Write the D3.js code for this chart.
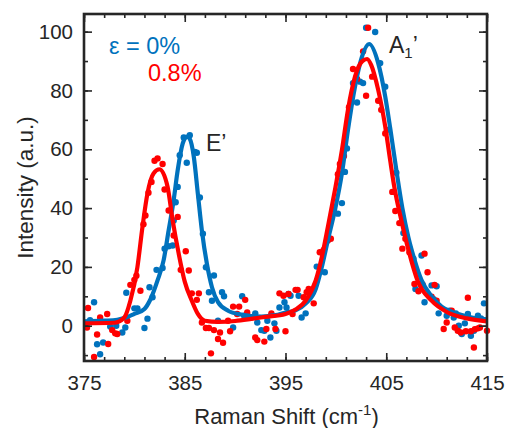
<!DOCTYPE html>
<html>
<head>
<meta charset="utf-8">
<script src="https://cdn.jsdelivr.net/npm/d3@7"></script>
<style>
  body { margin: 0; background: #fff; }
  text { font-family: "Liberation Sans", Arial, sans-serif; fill: #262626; }
</style>
</head>
<body>
<div id="chart"></div>
<script>
"use strict";

var w = 506,
  h = 428;

// measured data, epsilon = 0% (blue)
var blueX = [375.6, 376.0, 376.3, 376.6, 376.9, 377.6, 378.2, 378.8, 379.1, 379.2, 380.0, 380.3, 381.0, 381.3, 381.5, 381.8,
  382.2, 382.8, 383.0, 383.4, 383.8, 383.9, 384.1, 384.3, 384.5, 384.9, 385.2, 385.5, 386.0, 386.2, 386.5, 386.8, 387.1,
  387.4, 387.7, 387.9, 388.3, 388.7, 388.9, 389.8, 390.7, 390.9, 391.4, 392.0, 392.2, 392.6, 392.9, 393.2, 393.5, 393.9,
  394.1, 394.4, 394.9, 395.1, 395.3, 395.5, 396.3, 396.6, 397.0, 398.1, 398.8, 398.9, 399.4, 400.2, 400.6, 400.9, 401.1,
  401.7, 402.1, 402.4, 402.7, 403.0, 403.9, 404.4, 404.9, 405.1, 406.0, 406.7, 407.7, 407.9, 408.5, 408.8, 409.5, 409.7,
  410.0, 410.2, 411.0, 411.3, 411.7, 411.9, 412.2, 412.5, 412.8, 413.1, 413.4, 413.7, 414.1, 414.4, 414.7];
var blueY = [1.9, 8.0, -6.3, -9.7, -5.7, -0.3, 0, -2.3, -0.6, 11.2, 5.9, 5.9, -0.8, 2.4, 13.1, 9.7,
  19, 19.6, 26.2, 27, 27.3, 35.8, 42, 47.2, 58, 64, 55.4, 64.8, 59.1, 58.8, 43.6, 31.3, 19.9,
  11.4, 8.5, 17.1, 1.7, 11.4, 10, -0.6, 10, 3.4, 2.8, 4.2, 1.1, -1.5, -1.7, 1.7, -4, 0.8,
  -1.7, 6.2, 8, 6.2, 10.8, 10.2, 10.2, 2.8, 4.2, 20.1, 25.6, 18.2, 29.6, 38.1, 41.7, 52.3, 60.3,
  82.5, 75.9, 83, 82.5, 101.3, 99.9, 89.3, 81.3, 66.6, 52, 31.5, 22.8, 12.5, 23.9, 8, 13.7, 9,
  13.4, 4.2, 3.4, 5.1, 2.8, 4.2, 0, -2.8, 0.8, 4, -3.4, -1.7, 3.4, 2.5, 7.6];

// measured data, epsilon = 0.8% (red)
var redX = [375.3, 375.4, 376.0, 376.3, 376.6, 377.3, 377.4, 377.8, 378.1, 378.3, 379.3, 379.6, 380.0, 380.2, 380.6, 380.9,
  381.1, 381.4, 381.7, 382.0, 382.3, 382.8, 383.0, 383.4, 383.9, 384.3, 384.6, 385.1, 385.4, 385.7, 386.2, 386.4, 386.7,
  387.1, 387.4, 387.6, 387.9, 388.3, 388.5, 388.8, 389.3, 389.5, 389.8, 390.2, 390.4, 391.0, 391.2, 391.6, 392.0, 392.2,
  392.9, 393.1, 393.6, 394.0, 394.4, 394.8, 395.0, 395.3, 395.7, 396.0, 396.2, 396.8, 397.1, 397.3, 397.8, 398.4, 398.8,
  399.2, 399.5, 399.8, 400.2, 400.4, 400.8, 401.3, 401.7, 402.1, 402.7, 403.0, 403.2, 403.6, 404.2, 404.5, 404.9, 405.6,
  405.9, 406.3, 406.6, 406.9, 407.3, 407.8, 408.2, 408.6, 408.8, 409.1, 409.5, 409.8, 410.0, 410.7, 411.0, 411.5, 411.8,
  412.1, 412.4, 412.9, 413.1, 413.4, 413.7, 413.8, 414.1, 414.3, 415.0];
var redY = [-0.6, 6.0, -10.6, -3, 2.8, 4, -6.2, -1.5, -2.6, -2.8, 1.7, 13.9, 15.6, 17, 11.9, 34.5,
  37.5, 45.2, 48.9, 56.1, 56.9, 55, 46.3, 39.2, 30.7, 37, 19, 25.3, 18.8, 11, 8.8, 11, 1.1,
  -0.8, -0.8, -9.4, -1.5, -4.5, -2.3, -5.8, 1.7, -1.9, 6.5, 4, 6.5, 8.8, 4.5, 2.8, -4, -4.9,
  -5.4, -1.1, 4.2, -1.1, 11, 10.2, -1.9, 10.8, 4, 12.2, 12.2, 9.7, 11.4, 12.5, 7.6, 25, 25.8,
  29, 29.6, 39.5, 51.5, 55, 57.7, 74.3, 87.3, 83.9, 93.3, 78.2, 101.3, 84.7, 76.5, 73.4, 65.4, 45.5,
  39, 34.9, 26.2, 29.6, 25, 14.2, 11.7, 14, 24.5, 18.2, 9.9, 13.9, 8.5, -1.1, 1.1, 5.1, -0.6,
  -1.7, -2.3, -1.9, 9.5, -1.9, -7.4, -1.2, -0.9, -0.6, -1.7];

// fitted curves
var blueFitX = [375, 377, 378.3, 379, 380, 381, 381.6, 382.3, 382.9, 383.4, 383.9, 384.3, 384.8, 385.2, 385.5, 385.9,
  386.3, 386.7, 387.2, 387.7, 388.3, 389.3, 390.6, 392.6, 394, 395, 396, 397, 398, 398.6, 399.2, 399.9, 400.6, 401.2,
  401.9, 402.6, 403.3, 404.2, 404.9, 405.4, 406, 406.6, 407.2, 407.8, 408.5, 409.5, 410.5, 411.5, 412.5, 413.5, 415];
var blueFitY = [1.5, 1.7, 2, 2.6, 4, 5.7, 9, 15.4, 22.2, 32.4, 42.7, 52.9, 62, 64.3, 63.5, 57.4,
  44.9, 32.4, 21, 13.1, 8, 5.1, 3.8, 3.1, 3.6, 4.5, 5.2, 7.5, 12.5, 19.9, 29, 39.2, 51.8, 66.6,
  81.3, 91.6, 95.8, 89.3, 77.9, 67, 53, 40, 30, 22.5, 15.5, 10, 6.5, 4.8, 3.6, 2.8, 2.2];

var redFitX = [375, 378, 379, 379.6, 380.3, 380.8, 381.3, 381.9, 382.5, 383.3, 383.8, 384.4, 385, 385.7, 386.3, 387,
  388.3, 390, 391.6, 393, 395, 396, 397, 398, 398.6, 399.2, 399.9, 400.6, 401.2, 401.9, 402.6, 403.1, 403.5, 404.2,
  404.9, 405.4, 405.8, 406.5, 407.3, 408.1, 409.5, 411.1, 413, 415];
var redFitY = [0.8, 1.0, 2.8, 8.5, 19.9, 33.5, 45, 51.8, 53.2, 47.2, 35.8, 24.5, 15, 8.5, 4, 1.7,
  1.3, 1.6, 2.3, 3, 4, 5.5, 8.5, 15.4, 23.3, 33.5, 46, 59.7, 73.4, 84.7, 89.9, 90.7, 88.7, 80.2,
  67.7, 56, 47.2, 35.8, 24.5, 15.4, 8.5, 4.5, 2.5, 1.5];

var xTicks = [375, 385, 395, 405, 415];
var yTicks = [0, 20, 40, 60, 80, 100];

var blue = "#0072BD",
  red = "#FF0000",
  ink = "#262626";

var margin = { left: 84, right: 19, top: 14, bottom: 67 };

var svg = d3.select("#chart").append("svg").attr("width", w).attr("height", h);

var x = d3.scaleLinear().domain([375, 415]).range([margin.left, w - margin.right]);
var y = d3.scaleLinear().domain([-12, 106]).range([h - margin.bottom, margin.top]);

/**
 * Zip two value arrays into point pairs.
 */
var zip = function (xs, ys) {
  return xs.map(function (v, i) {
    return [v, ys[i]];
  });
};

/**
 * Draw the scatter of one series.
 */
var drawDots = function (xs, ys, color) {
  svg.append("g")
    .selectAll("circle")
    .data(zip(xs, ys))
    .enter()
    .append("circle")
    .attr("cx", function (d) { return x(d[0]); })
    .attr("cy", function (d) { return y(d[1]); })
    .attr("r", 3.2)
    .attr("fill", color);
};

/**
 * Draw a fitted curve.
 */
var drawFit = function (xs, ys, color) {
  var line = d3.line()
    .x(function (d) { return x(d[0]); })
    .y(function (d) { return y(d[1]); })
    .curve(d3.curveMonotoneX);
  svg.append("path")
    .datum(zip(xs, ys))
    .attr("d", line)
    .attr("fill", "none")
    .attr("stroke", color)
    .attr("stroke-width", 4.2)
    .attr("stroke-linejoin", "round");
};

drawDots(blueX, blueY, blue);
drawDots(redX, redY, red);
drawFit(blueFitX, blueFitY, blue);
drawFit(redFitX, redFitY, red);

// axes: ticks inward on all four sides, minor ticks in between
var minorX = d3.range(375, 416, 2),
  minorY = d3.range(-10, 106, 10);

var axisGroup = function (axis, tr) {
  var g = svg.append("g").attr("transform", tr).call(axis);
  g.select(".domain").remove();
  g.selectAll("line").attr("stroke", ink).attr("stroke-width", 1.6);
  return g;
};

var bottom = axisGroup(d3.axisBottom(x).tickValues(xTicks).tickSize(-8).tickPadding(14).tickFormat(d3.format("d")),
  "translate(0," + y(-12) + ")");
bottom.selectAll("text").attr("font-size", 20.5).style("fill", ink);
axisGroup(d3.axisBottom(x).tickValues(minorX).tickSize(-4).tickFormat(""), "translate(0," + y(-12) + ")");
axisGroup(d3.axisTop(x).tickValues(xTicks).tickSize(-8).tickFormat(""), "translate(0," + y(106) + ")");
axisGroup(d3.axisTop(x).tickValues(minorX).tickSize(-4).tickFormat(""), "translate(0," + y(106) + ")");

var left = axisGroup(d3.axisLeft(y).tickValues(yTicks).tickSize(-8).tickPadding(11),
  "translate(" + x(375) + ",0)");
left.selectAll("text").attr("font-size", 20.5).style("fill", ink);
axisGroup(d3.axisLeft(y).tickValues(minorY).tickSize(-4).tickFormat(""), "translate(" + x(375) + ",0)");
axisGroup(d3.axisRight(y).tickValues(yTicks).tickSize(-8).tickFormat(""), "translate(" + x(415) + ",0)");
axisGroup(d3.axisRight(y).tickValues(minorY).tickSize(-4).tickFormat(""), "translate(" + x(415) + ",0)");

svg.append("rect")
  .attr("x", x(375)).attr("y", y(106))
  .attr("width", x(415) - x(375)).attr("height", y(-12) - y(106))
  .attr("fill", "none")
  .attr("stroke", ink)
  .attr("stroke-width", 2.6);

// axis titles
var xt = svg.append("text")
  .attr("x", (x(375) + x(415)) / 2 + 1)
  .attr("y", 424)
  .attr("text-anchor", "middle")
  .attr("font-size", 22);
xt.append("tspan").text("Raman Shift (cm");
xt.append("tspan").attr("dy", -9).attr("font-size", 15).text("-1");
xt.append("tspan").attr("dy", 9).text(")");

svg.append("text")
  .attr("transform", "translate(33," + ((y(-12) + y(106)) / 2) + ") rotate(-90)")
  .attr("text-anchor", "middle")
  .attr("font-size", 22.5)
  .text("Intensity (a.u.)");

// annotations
svg.append("text").attr("x", 109).attr("y", 54).attr("font-size", 23.5)
  .style("fill", blue).text("ε = 0%");
svg.append("text").attr("x", 148).attr("y", 81).attr("font-size", 23.5)
  .style("fill", red).text("0.8%");
svg.append("text").attr("x", 206).attr("y", 151).attr("font-size", 23).text("E’");
var a1 = svg.append("text").attr("x", 389).attr("y", 53).attr("font-size", 23);
a1.append("tspan").text("A");
a1.append("tspan").attr("dy", 5).attr("font-size", 15).text("1");
a1.append("tspan").attr("dy", -5).text("’");
</script>
</body>
</html>
